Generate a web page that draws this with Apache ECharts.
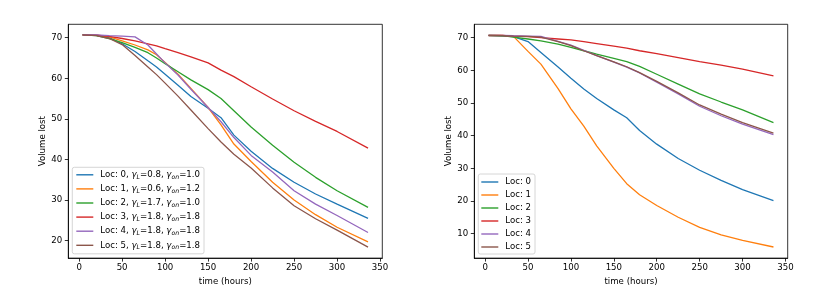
<!DOCTYPE html>
<html><head><meta charset="utf-8">
<script src="https://cdn.jsdelivr.net/npm/echarts@6/dist/echarts.min.js"></script>
<style>html,body{margin:0;padding:0;background:#fff}#c{width:829px;height:291px}</style>
</head><body><div id="c"></div>
<script>
// ---- data ----
const names = ['Loc: 0','Loc: 1','Loc: 2','Loc: 3','Loc: 4','Loc: 5'];
const colors = ['#1f77b4','#ff7f0e','#2ca02c','#d62728','#9467bd','#8c564b'];
const gammaL = ['0.8','0.6','1.7','1.8','1.8','1.8'];
const gammaOn = ['1.0','1.2','1.0','1.8','1.8','1.8'];
const xTicks = [0,50,100,150,200,250,300,350];
const yTicksLeft = [20,30,40,50,60,70];
const yTicksRight = [10,20,30,40,50,60,70];

const xsLeft = [4,20,35,50,65,80,90,100,115,130,150,165,180,200,225,250,275,300,336];
const left0 = [70.7,70.6,70.0,68.5,66.6,64.3,62.8,61.0,58.3,55.5,52.6,50.3,46.0,42.0,37.8,34.4,31.5,29.0,25.5];
const left1 = [70.7,70.6,70.2,69.2,68.2,67.0,65.8,63.9,61.0,57.5,52.8,48.5,43.8,39.5,34.4,30.0,26.4,23.3,19.7];
const left2 = [70.7,70.5,69.8,68.8,67.6,66.3,65.0,63.6,61.6,59.6,57.2,55.0,52.0,48.0,43.5,39.3,35.6,32.3,28.2];
const left3 = [70.7,70.6,70.3,69.8,69.2,68.5,68.0,67.3,66.3,65.3,63.8,62.0,60.4,57.9,54.9,52.0,49.4,46.9,42.8];
const left4 = [70.7,70.7,70.5,70.4,70.2,68.2,66.0,63.8,60.8,57.3,52.8,49.3,45.4,41.0,36.9,32.3,29.0,26.2,22.0];
const left5 = [70.7,70.5,69.8,68.3,65.6,62.8,60.9,58.8,55.6,52.2,47.6,44.3,41.3,37.9,33.0,28.6,25.4,22.6,18.4];

const xsRight = [4,20,33,50,65,85,100,115,130,150,165,180,200,225,250,275,300,336];
const right0 = [70.7,70.6,70.3,68.8,65.5,61.0,57.6,54.3,51.4,47.9,45.5,41.6,37.4,33.0,29.4,26.3,23.5,20.1];
const right1 = [70.7,70.7,70.4,65.8,61.9,54.4,48.2,42.9,36.9,30.0,25.3,21.9,18.6,15.0,11.9,9.6,7.9,5.9];
const right2 = [70.7,70.6,70.2,69.6,69.0,68.0,67.0,66.0,65.0,63.7,62.7,61.2,58.8,55.8,52.8,50.3,47.9,44.0];
const right3 = [70.7,70.7,70.5,70.3,70.0,69.6,69.3,68.8,68.2,67.4,66.8,66.0,65.1,63.9,62.7,61.6,60.4,58.3];
const right4 = [70.7,70.7,70.6,70.5,70.4,68.9,67.7,66.1,64.5,62.5,61.0,59.2,56.4,52.8,49.0,46.1,43.5,40.3];
const right5 = [70.6,70.6,70.5,70.4,70.2,68.8,67.6,66.0,64.5,62.6,61.1,59.3,56.6,53.1,49.4,46.6,44.0,40.8];

const leftY = [left0,left1,left2,left3,left4,left5];
const rightY = [right0,right1,right2,right3,right4,right5];

// ---- chart ----
const FONT = 'DejaVu Sans';
const FS = 8.6;
function pairs(xs, ys){ return xs.map((x,i)=>[x, ys[i]]); }

function xAxisDef(grid){
  return {
    type:'value', gridIndex:grid, min:-12.6, max:352.6,
    name:'time (hours)', nameLocation:'middle', nameGap:16,
    nameTextStyle:{fontFamily:FONT,fontSize:FS,color:'#000'},
    axisLine:{show:true,onZero:false,lineStyle:{color:'#000',width:0.8}},
    axisTick:{show:true,inside:false,length:3.5,customValues:xTicks,lineStyle:{color:'#000',width:0.8}},
    axisLabel:{customValues:xTicks,fontFamily:FONT,fontSize:FS,color:'#000',margin:5},
    splitLine:{show:false}
  };
}
function yAxisDef(grid,min,max,ticks){
  return {
    type:'value', gridIndex:grid, min:min, max:max,
    name:'Volume lost', nameLocation:'middle', nameGap:21, nameRotate:90,
    nameTextStyle:{fontFamily:FONT,fontSize:FS,color:'#000'},
    axisLine:{show:true,onZero:false,lineStyle:{color:'#000',width:0.8}},
    axisTick:{show:true,inside:false,length:3.5,customValues:ticks,lineStyle:{color:'#000',width:0.8}},
    axisLabel:{customValues:ticks,fontFamily:FONT,fontSize:FS,color:'#000',margin:6},
    splitLine:{show:false}
  };
}

const series = [];
names.forEach((n,i)=>{
  series.push({type:'line',name:n,xAxisIndex:0,yAxisIndex:0,data:pairs(xsLeft,leftY[i]),
    symbol:'none',color:colors[i],lineStyle:{width:1.3,color:colors[i]},animation:false});
});
names.forEach((n,i)=>{
  series.push({type:'line',name:n,xAxisIndex:1,yAxisIndex:1,data:pairs(xsRight,rightY[i]),
    symbol:'none',color:colors[i],lineStyle:{width:1.3,color:colors[i]},animation:false});
});

const legendBase = {
  orient:'vertical', icon:'rect', itemWidth:17, itemHeight:1.4,
  backgroundColor:'rgba(255,255,255,0.8)', borderColor:'#cccccc', borderWidth:0.8, borderRadius:2,
  data:names
};
const leftLegendIdx = {};
names.forEach((n,i)=>leftLegendIdx[n]=i);

const chart = echarts.init(document.getElementById('c'),null,{renderer:'canvas'});
chart.setOption({
  animation:false,
  backgroundColor:'#fff',
  grid:[
    {left:68.3,top:24.3,width:314,height:235,show:true,borderColor:'#000',borderWidth:0.8,backgroundColor:'transparent'},
    {left:474.3,top:24.3,width:313.4,height:235,show:true,borderColor:'#000',borderWidth:0.8,backgroundColor:'transparent'}
  ],
  xAxis:[xAxisDef(0),xAxisDef(1)],
  yAxis:[yAxisDef(0,15.7,73.3,yTicksLeft),yAxisDef(1,2.5,74.1,yTicksRight)],
  legend:[
    Object.assign({},legendBase,{
      left:72.3, top:167.3, itemGap:3.1, padding:[2,4,3,4],
      formatter:function(n){const i=leftLegendIdx[n];
        return n+', {g|γ}{s|L}=' + gammaL[i] + ', {g|γ}{s|on}=' + gammaOn[i];},
      textStyle:{fontFamily:FONT,fontSize:FS,color:'#000',lineHeight:11,padding:[0,0,0,2],
        rich:{g:{fontFamily:FONT,fontSize:FS,fontStyle:'italic',color:'#000',lineHeight:11},
              s:{fontFamily:FONT,fontSize:6.2,fontStyle:'italic',color:'#000',lineHeight:11,verticalAlign:'bottom'}}}
    }),
    Object.assign({},legendBase,{
      left:478.3, top:174, itemGap:3, padding:[3,4,2,3],
      textStyle:{fontFamily:FONT,fontSize:FS,color:'#000',lineHeight:10,padding:[0,0,0,2]}
    })
  ],
  series:series
});
</script></body></html>
